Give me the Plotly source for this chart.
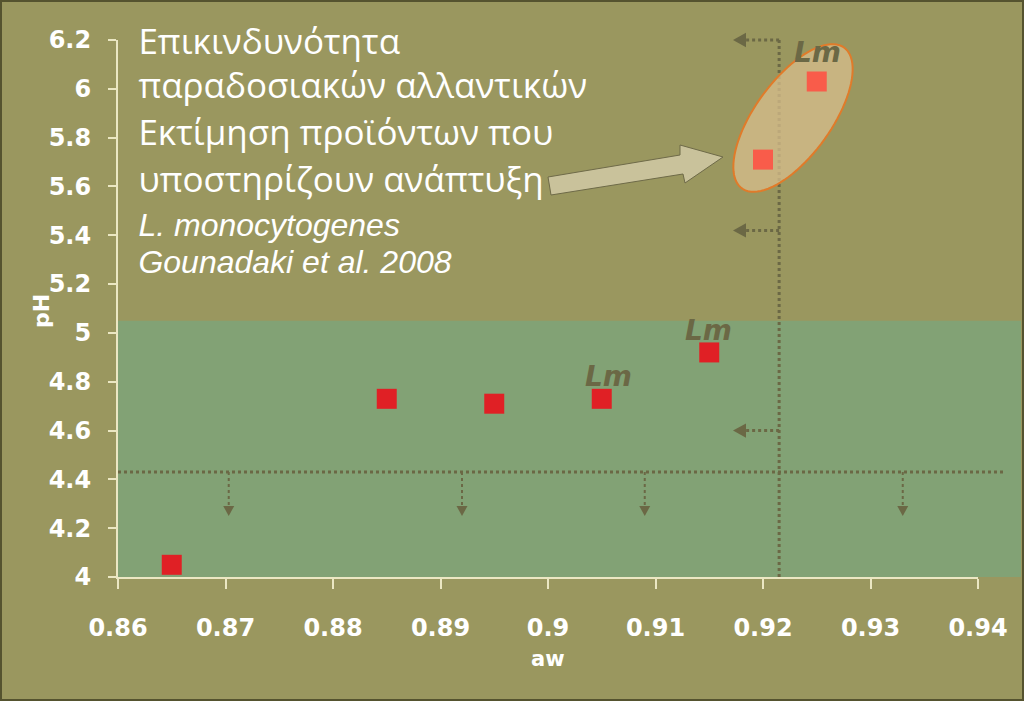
import numpy as np
import plotly.graph_objects as go

# data
aw = [0.865, 0.885, 0.895, 0.905, 0.915, 0.920, 0.925]
ph = [4.05, 4.73, 4.71, 4.73, 4.92, 5.71, 6.03]

x_ticks = [0.86, 0.87, 0.88, 0.89, 0.90, 0.91, 0.92, 0.93, 0.94]
x_tick_text = ["0.86", "0.87", "0.88", "0.89", "0.9", "0.91", "0.92", "0.93", "0.94"]
y_ticks = [4.0, 4.2, 4.4, 4.6, 4.8, 5.0, 5.2, 5.4, 5.6, 5.8, 6.0, 6.2]
y_tick_text = ["4", "4.2", "4.4", "4.6", "4.8", "5", "5.2", "5.4", "5.6", "5.8", "6", "6.2"]

lm_x = [0.9251, 0.9149, 0.9056]
lm_y = [6.15, 5.01, 4.82]

title_lines = [
    "Επικινδυνότητα",
    "παραδοσιακών αλλαντικών",
    "Εκτίμηση προϊόντων που",
    "υποστηρίζουν ανάπτυξη",
    "<i>L. monocytogenes</i>",
    "<i>Gounadaki et al. 2008</i>",
]
title_y = [6.18, 6.0, 5.805, 5.615, 5.43, 5.28]

green_top = 5.05
limit_ph = 4.43
limit_aw = 0.9215
down_arrow_aw = [0.8703, 0.892, 0.909, 0.933]
left_arrow_ph = [6.2, 5.42, 4.6]

X0, X1, Y0, Y1 = 0.86, 0.94, 4.0, 6.2
L, R, T, B = 118, 46, 40, 124
W, H = 1024, 701
PW, PH = W - L - R, H - T - B

BG = "#9a975f"
GREEN = "#82a275"
DARK = "#6b6845"
CREAM = "#ebe7c3"


def xp(v):
    return (v - X0) / (X1 - X0)


def yp(v):
    return (v - Y0) / (Y1 - Y0)


def px_x(p):
    return (p - L) / PW


def px_y(p):
    return (H - B - p) / PH


def tri(cx, cy, direction, size):
    # small arrow head in paper units, size in pixels
    sx, sy = size / PW, size / PH
    if direction == "down":
        pts = [(cx - sx * 0.55, cy + sy), (cx + sx * 0.55, cy + sy), (cx, cy)]
    else:
        pts = [(cx + sx, cy + sy * 0.55), (cx + sx, cy - sy * 0.55), (cx, cy)]
    return "M " + " L ".join(f"{a},{b}" for a, b in pts) + " Z"


fig = go.Figure()

marker_colors = ["#f95c4a" if v > 5.5 else "#e02025" for v in ph]
fig.add_trace(go.Scatter(
    x=aw, y=ph, mode="markers",
    marker=dict(symbol="square", size=20, color=marker_colors, line=dict(width=0)),
    showlegend=False, hoverinfo="x+y",
))

fig.add_trace(go.Scatter(
    x=[0.8619] * len(title_lines), y=title_y, mode="text",
    text=title_lines, textposition="middle right",
    textfont=dict(
        color="white",
        size=[35, 35, 35, 35, 32, 32],
        family=["Open Sans", "Open Sans", "Open Sans", "Open Sans",
                "Liberation Sans", "Liberation Sans"],
    ),
    cliponaxis=False, showlegend=False, hoverinfo="skip",
))

shapes = []
# green zone
shapes.append(dict(type="rect", xref="paper", yref="paper", layer="below",
                   x0=0, x1=px_x(1021), y0=0, y1=yp(green_top),
                   fillcolor=GREEN, line=dict(width=0)))
# limit lines
shapes.append(dict(type="line", xref="paper", yref="paper", layer="below",
                   x0=0, x1=px_x(1005), y0=yp(limit_ph), y1=yp(limit_ph),
                   line=dict(color=DARK, width=3, dash="dot")))
shapes.append(dict(type="line", xref="paper", yref="paper", layer="below",
                   x0=xp(limit_aw), x1=xp(limit_aw), y0=0, y1=1,
                   line=dict(color=DARK, width=3, dash="dot")))
for a in down_arrow_aw:
    tip = yp(4.25)
    shapes.append(dict(type="line", xref="paper", yref="paper", layer="below",
                       x0=xp(a), x1=xp(a), y0=yp(limit_ph), y1=tip + 8 / PH,
                       line=dict(color=DARK, width=2, dash="dot")))
    shapes.append(dict(type="path", xref="paper", yref="paper", layer="below",
                       path=tri(xp(a), tip, "down", 10), fillcolor=DARK,
                       line=dict(width=0)))
for p in left_arrow_ph:
    tip = px_x(733)
    shapes.append(dict(type="line", xref="paper", yref="paper", layer="below",
                       x0=xp(limit_aw), x1=tip + 12 / PW, y0=yp(p), y1=yp(p),
                       line=dict(color=DARK, width=3, dash="dot")))
    shapes.append(dict(type="path", xref="paper", yref="paper", layer="below",
                       path=tri(tip, yp(p), "left", 13), fillcolor=DARK,
                       line=dict(width=0)))

# ellipse around the two high points (pixel geometry)
t = np.linspace(0, 2 * np.pi, 90)
ang = np.deg2rad(54)
ex = 793 + 87 * np.cos(t) * np.cos(ang) - 38 * np.sin(t) * np.sin(ang)
ey = 118 - (87 * np.cos(t) * np.sin(ang) + 38 * np.sin(t) * np.cos(ang))
epath = "M " + " L ".join(f"{px_x(a)},{px_y(b)}" for a, b in zip(ex, ey)) + " Z"
shapes.append(dict(type="path", xref="paper", yref="paper", layer="below",
                   path=epath, fillcolor="rgba(215,190,140,0.75)",
                   line=dict(color="#e07b2a", width=2)))

# block arrow pointing to the ellipse
arrow_px = [(548, 177), (551, 195), (683, 174), (685, 183), (723, 157), (680, 145), (680, 155)]
apath = "M " + " L ".join(f"{px_x(a)},{px_y(b)}" for a, b in arrow_px) + " Z"
shapes.append(dict(type="path", xref="paper", yref="paper", layer="above",
                   path=apath, fillcolor="#c9c29b",
                   line=dict(color="#6e6a48", width=1)))

# frame
shapes.append(dict(type="rect", xref="paper", yref="paper", layer="above",
                   x0=px_x(0), x1=px_x(W), y0=px_y(H), y1=px_y(0),
                   line=dict(color="#55532f", width=4)))

annotations = []
for x, y in zip(lm_x, lm_y):
    annotations.append(dict(x=x, y=y, xref="x", yref="y", text="<b><i>Lm</i></b>",
                            showarrow=False,
                            font=dict(family="DejaVu Sans", size=28, color=DARK)))
annotations.append(dict(x=px_x(41), y=px_y(311), xref="paper", yref="paper",
                        xanchor="center", yanchor="middle",
                        text="<b>pH</b>", textangle=-90, showarrow=False,
                        font=dict(family="DejaVu Sans", size=22, color="white")))
annotations.append(dict(x=px_x(548), y=px_y(659), xref="paper", yref="paper",
                        xanchor="center", yanchor="middle",
                        text="<b>aw</b>", showarrow=False,
                        font=dict(family="DejaVu Sans", size=21, color="white")))

fig.update_layout(
    width=W, height=H,
    margin=dict(l=L, r=R, t=T, b=B),
    paper_bgcolor=BG,
    plot_bgcolor="rgba(0,0,0,0)",
    shapes=shapes,
    annotations=annotations,
    showlegend=False,
    xaxis=dict(
        range=[X0, X1], tickvals=x_ticks, ticktext=x_tick_text,
        showgrid=False, zeroline=False,
        showline=True, linecolor=CREAM, linewidth=2,
        ticks="outside", ticklen=10, tickwidth=2, tickcolor=CREAM,
        ticklabelstandoff=18,
        tickfont=dict(family="DejaVu Sans", size=24, color="white", weight="bold"),
    ),
    yaxis=dict(
        range=[Y0, Y1], tickvals=y_ticks, ticktext=y_tick_text,
        showgrid=False, zeroline=False,
        showline=True, linecolor=CREAM, linewidth=2,
        ticks="outside", ticklen=8, tickwidth=2, tickcolor=CREAM,
        ticklabelstandoff=12,
        tickfont=dict(family="DejaVu Sans", size=24, color="white", weight="bold"),
    ),
)

fig.write_html("out.html", config=dict(displayModeBar=False),
               post_script="document.body.style.margin='0';")
